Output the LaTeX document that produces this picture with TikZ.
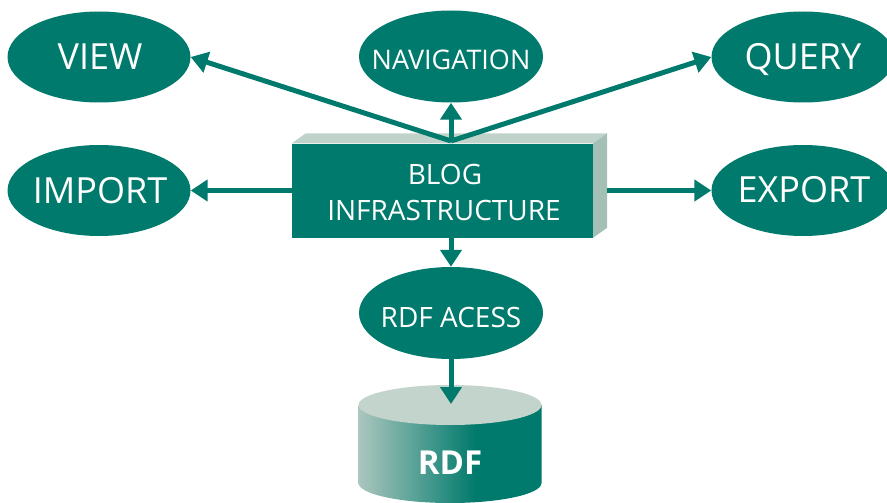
\documentclass[tikz,border=0pt]{standalone}
\usepackage{fontspec}
\setmainfont{Open Sans}
\usetikzlibrary{shapes.geometric,arrows.meta}

\definecolor{tealmain}{HTML}{007A6C}
\definecolor{facetop}{HTML}{C0D3CA}
\definecolor{faceside}{HTML}{A4BFB5}
\definecolor{cyllight}{HTML}{ABC6BE}
\definecolor{cyltopcol}{HTML}{C3D4CD}

% light on the left, full teal from a bit past the middle
\pgfdeclarehorizontalshading{cylshade}{100bp}{%
  color(0bp)=(cyllight); color(25bp)=(cyllight);
  color(57bp)=(tealmain); color(100bp)=(tealmain)}

\begin{document}
\begin{tikzpicture}[x=1pt,y=-1pt,
  oval/.style={ellipse, fill=tealmain, minimum width=183pt,
    minimum height=91pt, inner sep=0pt},
  lbl/.style={text=white, anchor=base, inner sep=0pt,
    font=\fontsize{36}{40}\selectfont},
  lblsmall/.style={lbl, font=\fontsize{28}{32}\selectfont},
  arr/.style={draw=tealmain, line width=5pt,
    -{Triangle[length=17pt,width=21pt]}},
  blockface/.style={fill=tealmain, minimum width=301pt,
    minimum height=94pt, inner sep=0pt}]
\useasboundingbox (0,0) rectangle (887,503);

% ellipses
\node[oval] (view)   at (99,57)    {};
\node[oval, minimum width=184pt, minimum height=92pt] (nav) at (451,56.5) {};
\node[oval] (query)  at (803,57)   {};
\node[oval] (import) at (99,190.5) {};
\node[oval] (export) at (803,190.5){};
\node[oval, minimum width=184pt, minimum height=92pt] (rdfa) at (451,313) {};

\node[lbl] (viewt)   at (100,70)  {VIEW};
\node[lblsmall, font=\fontsize{27}{32}\selectfont] (navt) at (451,70) {NAVIGATION};
\node[lbl] (queryt)  at (803,69.5) {QUERY};
\node[lbl] (importt) at (100,203) {IMPORT};
\node[lbl] (exportt) at (804,202) {EXPORT};
\node[lblsmall] (rdfat) at (451,327) {RDF ACESS};

% the 3D block
\node[blockface] (blog) at (442.5,190.5) {};
\fill[facetop] (blog.north west) -- ++(14,-10)
  -- ([shift={(14,-10)}]blog.north east) -- (blog.north east) -- cycle;
\fill[faceside] (blog.north east) -- ++(14,-10)
  -- ([shift={(14,-10)}]blog.south east) -- (blog.south east) -- cycle;
\node[lblsmall] (blogt1) at (445,184) {BLOG};
\node[lblsmall] (blogt2) at (444,220) {INFRASTRUCTURE};

% the storage cylinder
\shade[shading=cylshade] (358.5,405) -- (358.5,483)
  arc[start angle=180, end angle=0, x radius=91.5, y radius=20]
  -- (541.5,405) -- cycle;
\fill[cyltopcol] (450,405) ellipse[x radius=91.5, y radius=20];
\coordinate (cyltop) at (451,404);
\node[lbl, font=\fontsize{33}{38}\selectfont\bfseries] (rdf) at (450,474) {RDF};

% connectors
\coordinate (apex) at (451,141);
\draw[arr] (apex) -- (view.east);
\draw[arr] (apex) -- (query.west);
\draw[arr] (apex) -- (nav.south);
\draw[arr] (blog.west) -- (import.east);
\draw[arr] ([xshift=14pt]blog.east) -- (export.west);
\draw[arr] (rdfa.north |- blog.south) -- (rdfa.north);
\draw[arr] (rdfa.south) -- (cyltop);
\end{tikzpicture}
\end{document}
